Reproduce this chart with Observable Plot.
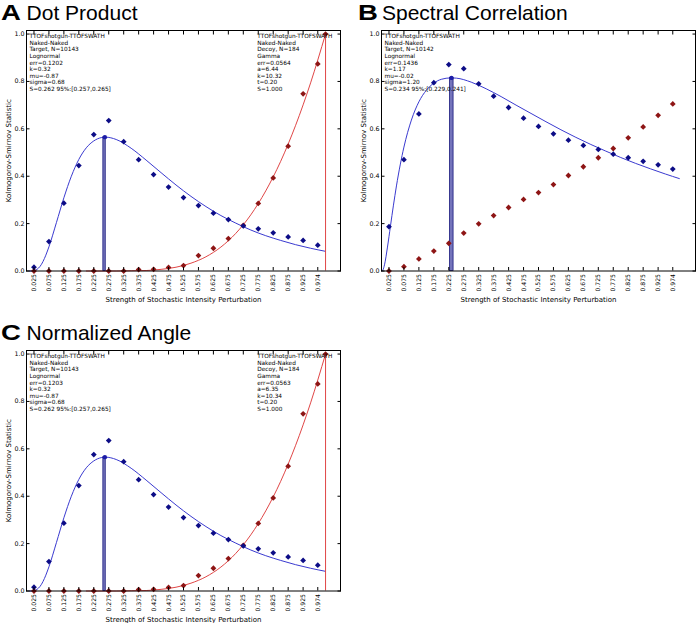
<!DOCTYPE html>
<html><head><meta charset="utf-8">
<script src="https://cdn.jsdelivr.net/npm/d3@7"></script>
<script src="https://cdn.jsdelivr.net/npm/@observablehq/plot@0.6"></script>
<style>
html,body{margin:0;padding:0;background:#fff;overflow:hidden;}
#root{position:relative;width:696px;height:623px;overflow:hidden;background:#fff;}
.panel{position:absolute;}
.ttl{position:absolute;font-family:"Liberation Sans",Arial,sans-serif;white-space:nowrap;color:#000;font-size:21px;line-height:21px;}
.ltr{position:absolute;font-family:"Liberation Sans",Arial,sans-serif;font-weight:bold;font-size:22px;line-height:22px;transform:scaleX(1.25);transform-origin:0 0;color:#000;}
</style></head><body><div id="root"></div>
<script>
// ---- shared categories / ticks ----
const xCats = [0.025,0.075,0.125,0.175,0.225,0.275,0.325,0.375,0.425,0.475,0.525,0.575,0.625,0.675,0.725,0.775,0.825,0.875,0.925,0.974];
const xTickLabels = ["0.025","0.075","0.125","0.175","0.225","0.275","0.325","0.375","0.425","0.475","0.525","0.575","0.625","0.675","0.725","0.775","0.825","0.875","0.925","0.974"];
const yTicks = [0,0.2,0.4,0.6,0.8,1.0];
const yTickLabels = ["0.0","0.2","0.4","0.6","0.8","1.0"];
const xAxisTitle = "Strength of Stochastic Intensity Perturbation";
const yAxisTitle = "Kolmogorov-Smirnov Statistic";

// ---- Panel A: Dot Product ----
const targetA = [0.016,0.124,0.286,0.445,0.576,0.635,0.546,0.470,0.407,0.354,0.310,0.276,0.244,0.217,0.190,0.178,0.161,0.144,0.129,0.109];
const decoyA  = [0,0,0,0,0,0,0,0.006,0.007,0.015,0.023,0.065,0.096,0.137,0.193,0.285,0.393,0.527,0.748,0.874];
const fitXA = [0.01,0.02,0.03,0.04,0.05,0.06,0.075,0.1,0.125,0.15,0.175,0.2,0.225,0.25,0.264,0.3,0.35,0.4,0.45,0.5,0.55,0.6,0.65,0.7,0.75,0.8,0.85,0.9,0.95,1.0];
const fitYA = [0,0,0.003,0.012,0.028,0.053,0.102,0.204,0.309,0.400,0.471,0.520,0.549,0.563,0.565,0.555,0.518,0.468,0.415,0.363,0.315,0.272,0.234,0.202,0.173,0.149,0.129,0.111,0.096,0.083];
const decoyFitXA = [0.2,0.3,0.35,0.4,0.45,0.5,0.55,0.6,0.65,0.7,0.75,0.8,0.85,0.9,0.95,1.0];
const decoyFitYA = [0,0,0.001,0.002,0.007,0.016,0.033,0.060,0.101,0.159,0.237,0.338,0.463,0.615,0.794,1.0];
const peakA = {s:0.262, lo:0.257, hi:0.265, y:0.565};
const decoyPeakA = {s:1.0, y:1.0};
const textTargetA = ["TTOFshotgun-TTOFSWATH","Naked-Naked","Target, N=10143","Lognormal","err=0.1202","k=0.32","mu=-0.87","sigma=0.68","S=0.262 95%:[0.257,0.265]"];
const textDecoyA = ["TTOFshotgun-TTOFSWATH","Naked-Naked","Decoy, N=184","Gamma","err=0.0564","a=6.44","k=10.32","t=0.20","S=1.000"];

// ---- Panel B: Spectral Correlation ----
const targetB = [0.187,0.470,0.663,0.795,0.871,0.854,0.790,0.738,0.690,0.645,0.610,0.579,0.552,0.530,0.513,0.493,0.478,0.463,0.448,0.430];
const decoyB  = [0,0.018,0.051,0.084,0.117,0.160,0.199,0.234,0.268,0.302,0.331,0.365,0.403,0.440,0.478,0.517,0.562,0.608,0.657,0.705];
const fitXB = [0.003,0.005,0.01,0.02,0.03,0.04,0.05,0.075,0.1,0.125,0.15,0.175,0.2,0.232,0.25,0.3,0.35,0.4,0.45,0.5,0.55,0.6,0.65,0.7,0.75,0.8,0.85,0.9,0.95,0.996];
const fitYB = [0.001,0.005,0.026,0.101,0.190,0.278,0.359,0.523,0.637,0.714,0.763,0.793,0.809,0.815,0.814,0.797,0.769,0.736,0.700,0.665,0.630,0.596,0.564,0.534,0.506,0.479,0.454,0.431,0.409,0.390];
const peakB = {s:0.234, lo:0.229, hi:0.241, y:0.815};
const textTargetB = ["TTOFshotgun-TTOFSWATH","Naked-Naked","Target, N=10142","Lognormal","err=0.1436","k=1.17","mu=-0.02","sigma=1.20","S=0.234 95%:[0.229,0.241]"];

// ---- Panel C: Normalized Angle ----
const targetC = [0.016,0.124,0.286,0.445,0.576,0.635,0.546,0.470,0.407,0.354,0.310,0.276,0.244,0.217,0.190,0.178,0.161,0.144,0.129,0.109];
const decoyC  = [0,0,0,0,0,0,0,0.006,0.007,0.015,0.023,0.065,0.096,0.137,0.193,0.285,0.393,0.527,0.748,0.874];
const fitYC = [0,0,0.003,0.012,0.028,0.053,0.102,0.204,0.309,0.400,0.471,0.520,0.549,0.563,0.565,0.555,0.518,0.468,0.415,0.363,0.315,0.272,0.234,0.202,0.173,0.149,0.129,0.111,0.096,0.083];
const decoyFitYC = [0,0,0.001,0.002,0.007,0.016,0.033,0.060,0.101,0.159,0.237,0.338,0.463,0.615,0.794,1.0];
const peakC = {s:0.262, lo:0.257, hi:0.265, y:0.565};
const decoyPeakC = {s:1.0, y:1.0};
const textTargetC = ["TTOFshotgun-TTOFSWATH","Naked-Naked","Target, N=10143","Lognormal","err=0.1203","k=0.32","mu=-0.87","sigma=0.68","S=0.262 95%:[0.257,0.265]"];
const textDecoyC = ["TTOFshotgun-TTOFSWATH","Naked-Naked","Decoy, N=184","Gamma","err=0.0563","a=6.35","k=10.34","t=0.20","S=1.000"];

// ---- styles ----
const BLUE_DOT = "#0c0c86", RED_DOT = "#8e1515", BLUE_LINE = "#3a3ad0", RED_LINE = "#e04646";

function makePanel(cfg) {
  const W = cfg.width, H = 311, ML = 26, MR = W - 340;
  const pts = (ys) => xCats.map((x, i) => ({x, y: ys[i]}));
  const line = (xs, ys) => xs.map((x, i) => ({x, y: ys[i]}));
  const marks = [
    Plot.line(line(cfg.fitX, cfg.fitY), {x: "x", y: "y", stroke: BLUE_LINE, strokeWidth: 1, curve: "monotone-x"})
  ];
  if (cfg.decoyFitY) marks.push(Plot.line(line(cfg.decoyFitX, cfg.decoyFitY), {x: "x", y: "y", stroke: RED_LINE, strokeWidth: 1, curve: "monotone-x"}));
  marks.push(
    Plot.rect([cfg.peak], {x1: "lo", x2: "hi", y1: 0, y2: "y", fill: "#7474bb", stroke: "#1a1a7e", strokeWidth: 0.8}),
    Plot.dot([cfg.peak], {x: "s", y: "y", r: 2.2, fill: "#1c1ca8"})
  );
  if (cfg.decoyPeak) marks.push(
    Plot.ruleX([cfg.decoyPeak], {x: "s", y1: 0, y2: "y", stroke: RED_LINE, strokeWidth: 1}),
    Plot.dot([cfg.decoyPeak], {x: "s", y: "y", r: 2.6, symbol: "diamond2", fill: RED_DOT})
  );
  marks.push(
    Plot.dot(pts(cfg.decoy), {x: "x", y: "y", symbol: "diamond2", r: 2.6, fill: RED_DOT}),
    Plot.dot(pts(cfg.target), {x: "x", y: "y", symbol: "diamond2", r: 2.6, fill: BLUE_DOT}),
    Plot.text([cfg.textT.join("\n")], {frameAnchor: "top-left", dx: 3, dy: 3, textAnchor: "start", lineAnchor: "top", fontSize: 5.8, lineHeight: 1.14, fill: "black", fontFamily: "DejaVu Sans"})
  );
  if (cfg.textD) marks.push(Plot.text([cfg.textD.join("\n")], {frameAnchor: "top-left", dx: 230.7, dy: 3, textAnchor: "start", lineAnchor: "top", fontSize: 5.8, lineHeight: 1.14, fill: "black", fontFamily: "DejaVu Sans"}));
  marks.push(
    Plot.frame({stroke: "black", strokeWidth: 1}),
    Plot.axisX({anchor: "bottom", ticks: xCats, tickFormat: d => xTickLabels[xCats.indexOf(d)], tickRotate: -90, tickSize: 0, tickPadding: 3, label: null, fontSize: 6.1}),
    Plot.axisX({anchor: "bottom", ticks: xCats, tickSize: -3.5, text: null, label: null}),
    Plot.axisX({anchor: "top", ticks: xCats, tickSize: -3.5, text: null, label: null}),
    Plot.axisY({anchor: "left", ticks: yTicks, tickFormat: d => yTickLabels[yTicks.indexOf(d)], tickSize: 0, tickPadding: 2, label: null, fontSize: 6.3}),
    Plot.axisY({anchor: "left", ticks: yTicks, tickSize: -3.5, text: null, label: null}),
    Plot.axisY({anchor: "right", ticks: yTicks, tickSize: -3.5, text: null, label: null}),
    Plot.text([xAxisTitle], {frameAnchor: "bottom", dy: 28.5, lineAnchor: "middle", textAnchor: "middle", fontSize: 7, fill: "black"}),
    Plot.text([yAxisTitle], {frameAnchor: "left", dx: -17.7, rotate: -90, lineAnchor: "middle", textAnchor: "middle", fontSize: 7, fill: "black"})
  );
  return Plot.plot({
    width: W, height: H,
    marginLeft: ML, marginRight: MR, marginTop: 30, marginBottom: 40.5,
    style: {fontFamily: "DejaVu Sans, sans-serif", fontSize: "6.2px", background: "transparent", overflow: "visible", color: "black"},
    x: {domain: [0, 1.05]},
    y: {domain: [0, 1.015]},
    marks
  });
}

const root = document.getElementById("root");
function place(el, left, top) {
  el.style.position = "absolute"; el.style.left = left + "px"; el.style.top = top + "px";
  root.appendChild(el);
}
// baseline-aligned titles: letter (bold) + name
function title(letter, name, left, top, nameLeft) {
  const l = document.createElement("div"); l.className = "ltr"; l.textContent = letter;
  l.style.left = left + "px"; l.style.top = (top + 21 - 0.8465 * 22) + "px"; root.appendChild(l);
  const t = document.createElement("div"); t.className = "ttl"; t.textContent = name;
  t.style.left = nameLeft + "px"; t.style.top = (top + 20 - 0.8465 * 21) + "px"; root.appendChild(t);
}

place(makePanel({width: 348, target: targetA, decoy: decoyA, fitX: fitXA, fitY: fitYA, decoyFitX: decoyFitXA, decoyFitY: decoyFitYA, peak: peakA, decoyPeak: decoyPeakA, textT: textTargetA, textD: textDecoyA}), 0, 0);
place(makePanel({width: 351, target: targetB, decoy: decoyB, fitX: fitXB, fitY: fitYB, peak: peakB, textT: textTargetB}), 355, 0);
place(makePanel({width: 348, target: targetC, decoy: decoyC, fitX: fitXA, fitY: fitYC, decoyFitX: decoyFitXA, decoyFitY: decoyFitYC, peak: peakC, decoyPeak: decoyPeakC, textT: textTargetC, textD: textDecoyC}), 0, 320);

title("A", "Dot Product", 1, 0, 26.6);
title("B", "Spectral Correlation", 358, 0, 382);
title("C", "Normalized Angle", 1, 320, 26.6);
</script></body></html>
